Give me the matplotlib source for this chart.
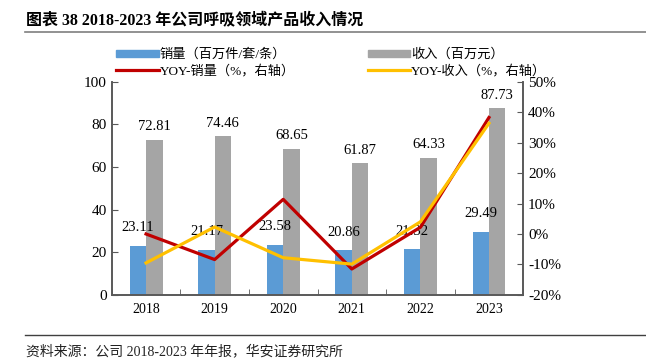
import matplotlib.pyplot as plt
import numpy as np
from matplotlib.lines import Line2D
import matplotlib.patches as mpatches

plt.rcParams['font.family'] = ['Liberation Serif', 'Noto Sans CJK SC']

years = ['2018', '2019', '2020', '2021', '2022', '2023']
sales = [23.11, 21.17, 23.58, 20.86, 21.32, 29.49]
revenue = [72.81, 74.46, 68.65, 61.87, 64.33, 87.73]
yoy_sales = [0.0, -8.4, 11.4, -11.5, 2.2, 38.3]
yoy_revenue = [-9.5, 2.3, -7.8, -9.9, 4.0, 36.4]

c_blue = '#5B9BD5'
c_gray = '#A5A5A5'
c_red = '#C00000'
c_yellow = '#FFC000'

fig = plt.figure(figsize=(6.46, 3.64), dpi=100)
ax = fig.add_axes([0.173, 0.19, 0.637, 0.585])
ax2 = ax.twinx()

x = np.arange(len(years))
w = 0.24
ax.bar(x - w / 2, sales, w, color=c_blue, zorder=2)
ax.bar(x + w / 2, revenue, w, color=c_gray, zorder=2)

for i in range(len(years)):
    ax.text(x[i] - w / 2, sales[i] + 5.5, f'{sales[i]:.2f}', ha='center', va='bottom',
            fontsize=10.5, zorder=5)
    ax.text(x[i] + w / 2, revenue[i] + 3, f'{revenue[i]:.2f}', ha='center', va='bottom',
            fontsize=10.5, zorder=5)

ax2.plot(x, yoy_sales, color=c_red, lw=2.3, zorder=3)
ax2.plot(x, yoy_revenue, color=c_yellow, lw=2.3, zorder=3)

ax.set_xlim(-0.5, len(years) - 0.5)
ax.set_ylim(0, 100)
ax.set_yticks(range(0, 101, 20))
ax2.set_ylim(-20, 50)
ax2.set_yticks(range(-20, 51, 10))
ax2.set_yticklabels([f'{v}%' for v in range(-20, 51, 10)])

ax.set_xticks(x)
ax.set_xticklabels(years)
ax.set_xticks(np.arange(-0.5, len(years), 1), minor=True)
ax.tick_params(axis='x', which='major', length=0, labelsize=10, pad=6)
ax.tick_params(axis='x', which='minor', direction='in', length=4, color='#595959')
ax.tick_params(axis='y', direction='in', length=4, labelsize=11, color='#595959')
ax2.tick_params(axis='y', direction='in', length=4, labelsize=11, color='#595959')

for a in (ax, ax2):
    a.spines['top'].set_visible(False)
    for s in ('left', 'right', 'bottom'):
        a.spines[s].set_color('#595959')
        a.spines[s].set_linewidth(1.2)

# column-wise fill: col 1 = blue, red; col 2 = gray, yellow
handles = [
    mpatches.Patch(color=c_blue, label='销量（百万件/套/条）'),
    Line2D([], [], color=c_red, lw=2.3, label='YOY-销量（%，右轴）'),
    mpatches.Patch(color=c_gray, label='收入（百万元）'),
    Line2D([], [], color=c_yellow, lw=2.3, label='YOY-收入（%，右轴）'),
]
fig.legend(handles=handles, loc='upper left', bbox_to_anchor=(0.17, 0.885), ncol=2,
           frameon=False, fontsize=9.5, handlelength=3.2, handleheight=0.5,
           handletextpad=0.1, columnspacing=5.5, labelspacing=0.25, borderpad=0)

fig.text(0.04, 0.945, '图表 38 2018-2023 年公司呼吸领域产品收入情况', fontsize=11.5,
         fontweight='bold', va='center')
fig.add_artist(Line2D([0.038, 1.0], [0.912, 0.912], color='#7f7f7f', lw=1.2))
fig.add_artist(Line2D([0.038, 1.0], [0.08, 0.08], color='#404040', lw=1.0))
fig.text(0.04, 0.035, '资料来源：公司 2018-2023 年年报，华安证券研究所', fontsize=10,
         va='center', color='#222222')

fig.savefig('out.png', dpi=100)
